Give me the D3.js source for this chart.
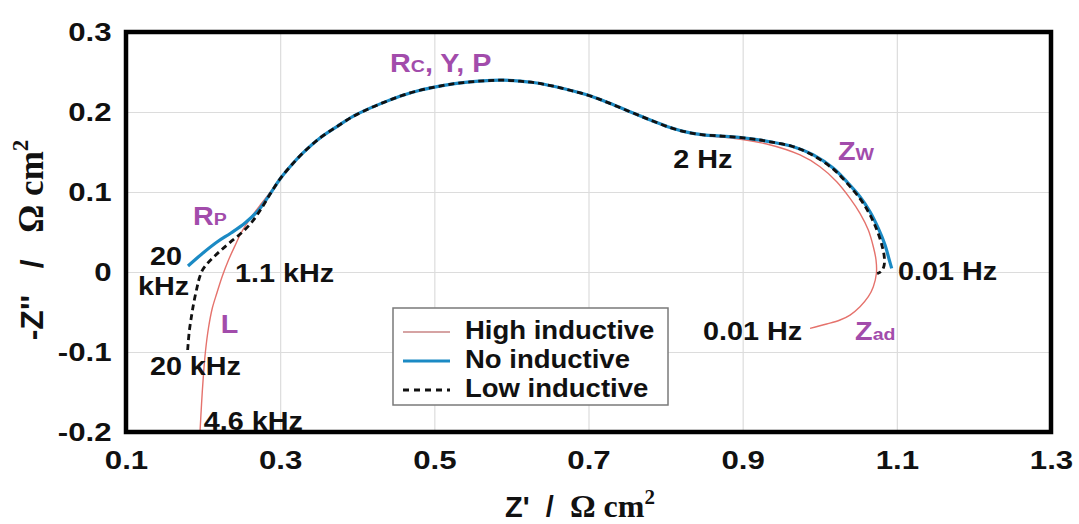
<!DOCTYPE html>
<html>
<head>
<meta charset="utf-8">
<script src="https://cdn.jsdelivr.net/npm/d3@7"></script>
<style>
    body { margin: 0; background: #fff; }
    svg { display: block; font-family: "Liberation Sans", Arial, sans-serif; }
</style>
</head>
<body>
<svg id="chart" width="1079" height="524"></svg>
<script>
// values, Z' and -Z'' in ohm cm2
// middle stretch where all three curves lie on top of each other
const arcRe = [0.2998, 0.3128, 0.3296, 0.3517, 0.3737, 0.3945, 0.4166, 0.4386, 0.4594, 0.4814, 0.5035, 0.5242,
    0.5463, 0.5683, 0.5891, 0.6112, 0.6329, 0.6545, 0.6761, 0.6978, 0.7194, 0.741, 0.7627, 0.7843, 0.8059]
const arcIm = [0.1163, 0.1316, 0.1488, 0.1675, 0.1818, 0.1945, 0.2048, 0.2136, 0.221, 0.2272, 0.2318, 0.2352,
    0.2376, 0.2392, 0.2398, 0.2385, 0.2362, 0.2322, 0.2272, 0.2215, 0.214, 0.2055, 0.1968, 0.1884, 0.1805]

const highRe = [0.196, 0.198, 0.2, 0.203, 0.207, 0.212, 0.218, 0.225, 0.233, 0.241, 0.25, 0.262, 0.276, 0.289]
    .concat(arcRe)
    .concat([0.8274, 0.849, 0.8706, 0.8879, 0.9312, 0.9744, 1.0003, 1.022, 1.0393, 1.0522, 1.063, 1.0695, 1.073,
        1.0735, 1.0695, 1.063, 1.0522, 1.0393, 1.0263, 1.009, 0.9874])
const highIm = [-0.2, -0.165, -0.135, -0.1, -0.07, -0.045, -0.026, -0.005, 0.015, 0.032, 0.05, 0.068, 0.086, 0.102]
    .concat(arcIm)
    .concat([0.1745, 0.1708, 0.1688, 0.1671, 0.16, 0.1463, 0.1316, 0.1129, 0.0921, 0.0734, 0.0525, 0.0316, 0.015,
        -0.0016, -0.0184, -0.0309, -0.0434, -0.0538, -0.06, -0.065, -0.0704])

const noRe = [0.1804, 0.1999, 0.2181, 0.2362, 0.2544, 0.2712, 0.2855]
    .concat(arcRe)
    .concat([0.8274, 0.849, 0.8706, 0.8922, 0.9139, 0.9355, 0.9658, 0.9917, 1.0177, 1.035, 1.0522, 1.0652, 1.076,
        1.0847, 1.0902, 1.0933])
const noIm = [0.0075, 0.0238, 0.0375, 0.0488, 0.0613, 0.0765, 0.0955]
    .concat(arcIm)
    .concat([0.1748, 0.1715, 0.17, 0.1685, 0.1661, 0.1628, 0.1566, 0.1463, 0.1296, 0.1129, 0.0941, 0.0754, 0.0546,
        0.0338, 0.015, 0.0046])

const lowRe = [0.18, 0.182, 0.185, 0.188, 0.192, 0.195, 0.199, 0.205, 0.213, 0.223, 0.235, 0.25, 0.263, 0.276, 0.288]
    .concat(arcRe)
    .concat([0.8274, 0.849, 0.8706, 0.8922, 0.9139, 0.9355, 0.9658, 0.9917, 1.0177, 1.035, 1.052, 1.064, 1.0735,
        1.0805, 1.0838, 1.0832, 1.0795, 1.0745])
const lowIm = [-0.0975, -0.075, -0.055, -0.038, -0.02, -0.008, 0.002, 0.01, 0.018, 0.027, 0.037, 0.049, 0.062, 0.08, 0.099]
    .concat(arcIm)
    .concat([0.1748, 0.1715, 0.17, 0.1685, 0.1661, 0.1628, 0.1566, 0.1455, 0.1285, 0.1115, 0.092, 0.0735, 0.054,
        0.034, 0.018, 0.007, 0.0005, -0.002])

const seriesNames = ["High inductive", "No inductive", "Low inductive"]
const seriesColors = ["#e5726c", "#1b8ac4", "#111111"]

const xTicks = [0.1, 0.3, 0.5, 0.7, 0.9, 1.1, 1.3]
const yTicks = [-0.2, -0.1, 0, 0.1, 0.2, 0.3]

// frequency notes (black) and element notes (purple), anchored at data coords
const noteText = ["2 Hz", "0.01 Hz", "0.01 Hz", "20", "kHz", "1.1 kHz", "20 kHz", "4.6 kHz"]
const noteRe = [0.81, 1.1016, 0.8486, 0.131, 0.1156, 0.2414, 0.131, 0.201]
const noteIm = [0.13, -0.01, -0.085, 0.0088, -0.029, -0.0125, -0.129, -0.1975]

const elemMain = ["R", "R", "Z", "Z", "L"]
const elemSub = ["C", "P", "W", "ad", ""]
const elemTail = [", Y, P", "", "", "", ""]
const elemRe = [0.4425, 0.187, 1.0237, 1.0458, 0.223]
const elemIm = [0.25, 0.059, 0.14, -0.085, -0.076]

var margin = { top: 32, right: 28, bottom: 92, left: 126 },
    width = 1079 - margin.left - margin.right,
    height = 524 - margin.top - margin.bottom,
    stretch = 1.15;

var svg = d3.select("#chart")
    .append("g")
    .attr("transform", "translate(" + margin.left + "," + margin.top + ")");

var x = d3.scaleLinear().domain([0.1, 1.3]).range([0, width]);
var y = d3.scaleLinear().domain([-0.2, 0.3]).range([height, 0]);

// grid
svg.append("g")
    .attr("transform", "translate(0," + height + ")")
    .call(d3.axisBottom(x).tickValues(xTicks).tickSize(-height).tickFormat(""))
    .call(g => g.select(".domain").remove())
    .call(g => g.selectAll("line").attr("stroke", "#dcdcdc").attr("stroke-width", 1.2));

svg.append("g")
    .call(d3.axisLeft(y).tickValues(yTicks).tickSize(-width).tickFormat(""))
    .call(g => g.select(".domain").remove())
    .call(g => g.selectAll("line").attr("stroke", "#dcdcdc").attr("stroke-width", 1.2));

// tick labels
svg.append("g")
    .attr("transform", "translate(0," + height + ")")
    .call(d3.axisBottom(x).tickValues(xTicks).tickSize(0).tickPadding(19).tickFormat(d => String(d)))
    .call(g => g.select(".domain").remove())
    .call(g => g.selectAll("text")
        .attr("font-family", "Liberation Sans, Arial, sans-serif")
        .attr("font-size", 26).attr("font-weight", "bold").attr("fill", "#111")
        .attr("transform", "scale(1.2,1)"));

svg.append("g")
    .call(d3.axisLeft(y).tickValues(yTicks).tickSize(0).tickPadding(12).tickFormat(d => String(d)))
    .call(g => g.select(".domain").remove())
    .call(g => g.selectAll("text")
        .attr("font-family", "Liberation Sans, Arial, sans-serif")
        .attr("font-size", 26).attr("font-weight", "bold").attr("fill", "#111")
        .attr("transform", "scale(1.2,1)"));

// curves
svg.append("clipPath").attr("id", "plotClip")
    .append("rect").attr("width", width).attr("height", height);

var line = d3.line()
    .x(function (d) { return x(d[0]); })
    .y(function (d) { return y(d[1]); })
    .curve(d3.curveCatmullRom.alpha(0.5));

var curves = svg.append("g").attr("clip-path", "url(#plotClip)");

curves.append("path")
    .datum(d3.zip(highRe, highIm))
    .attr("fill", "none")
    .attr("stroke", seriesColors[0])
    .attr("stroke-width", 1.4)
    .attr("d", line);

curves.append("path")
    .datum(d3.zip(noRe, noIm))
    .attr("fill", "none")
    .attr("stroke", seriesColors[1])
    .attr("stroke-width", 3.2)
    .attr("d", line);

curves.append("path")
    .datum(d3.zip(lowRe, lowIm))
    .attr("fill", "none")
    .attr("stroke", seriesColors[2])
    .attr("stroke-width", 2.8)
    .attr("stroke-dasharray", "6,4")
    .attr("d", line);

// frame
svg.append("rect")
    .attr("width", width)
    .attr("height", height)
    .attr("fill", "none")
    .attr("stroke", "#000")
    .attr("stroke-width", 4.5);

// black frequency labels
noteText.forEach(function (t, i) {
    svg.append("text")
        .attr("transform", "translate(" + x(noteRe[i]) + "," + y(noteIm[i]) + ") scale(" + stretch + ",1)")
        .attr("font-size", 25)
        .attr("font-weight", "bold")
        .attr("fill", "#111")
        .text(t);
});

// purple element labels
elemMain.forEach(function (t, i) {
    var txt = svg.append("text")
        .attr("transform", "translate(" + x(elemRe[i]) + "," + y(elemIm[i]) + ") scale(" + stretch + ",1)")
        .attr("font-size", 25)
        .attr("font-weight", "bold")
        .attr("fill", "#a24cab");
    txt.append("tspan").text(t);
    if (elemSub[i]) txt.append("tspan").attr("font-size", 17).text(elemSub[i]);
    if (elemTail[i]) txt.append("tspan").text(elemTail[i]);
});

// legend
var legend = d3.select("#chart").append("g")
    .attr("transform", "translate(393,308)");

legend.append("rect")
    .attr("width", 275)
    .attr("height", 97)
    .attr("fill", "#fff")
    .attr("stroke", "#7a7a7a")
    .attr("stroke-width", 1.5);

seriesNames.forEach(function (name, i) {
    legend.append("line")
        .attr("x1", 10).attr("x2", 57)
        .attr("y1", 24 + i * 29).attr("y2", 24 + i * 29)
        .attr("stroke", i === 0 ? "#c98585" : seriesColors[i])
        .attr("stroke-width", i === 0 ? 1.6 : 3)
        .attr("stroke-dasharray", i === 2 ? "6,5" : null);
    legend.append("text")
        .attr("transform", "translate(72," + (31 + i * 29) + ") scale(1.1,1)")
        .attr("font-size", 25)
        .attr("font-weight", "bold")
        .attr("fill", "#111")
        .text(name);
});

// axis titles
var xTitle = d3.select("#chart").append("text")
    .attr("x", 580)
    .attr("y", 517)
    .attr("text-anchor", "middle")
    .attr("font-size", 29)
    .attr("font-weight", "bold")
    .attr("fill", "#111")
    .style("white-space", "pre");
xTitle.append("tspan").text("Z'  /  ");
xTitle.append("tspan").attr("font-family", "Liberation Serif, Times New Roman, serif").attr("font-size", 32).text("Ω cm");
xTitle.append("tspan").attr("font-family", "Liberation Serif, Times New Roman, serif").attr("font-size", 21).attr("dy", -13).text("2");

var yTitle = d3.select("#chart").append("text")
    .attr("transform", "translate(43,240) rotate(-90)")
    .attr("text-anchor", "middle")
    .attr("font-size", 32)
    .attr("font-weight", "bold")
    .attr("fill", "#111")
    .style("white-space", "pre");
yTitle.append("tspan").text("-Z''   /   ");
yTitle.append("tspan").attr("font-family", "Liberation Serif, Times New Roman, serif").attr("font-size", 35).text("Ω cm");
yTitle.append("tspan").attr("font-family", "Liberation Serif, Times New Roman, serif").attr("font-size", 23).attr("dy", -15).text("2");
</script>
</body>
</html>
